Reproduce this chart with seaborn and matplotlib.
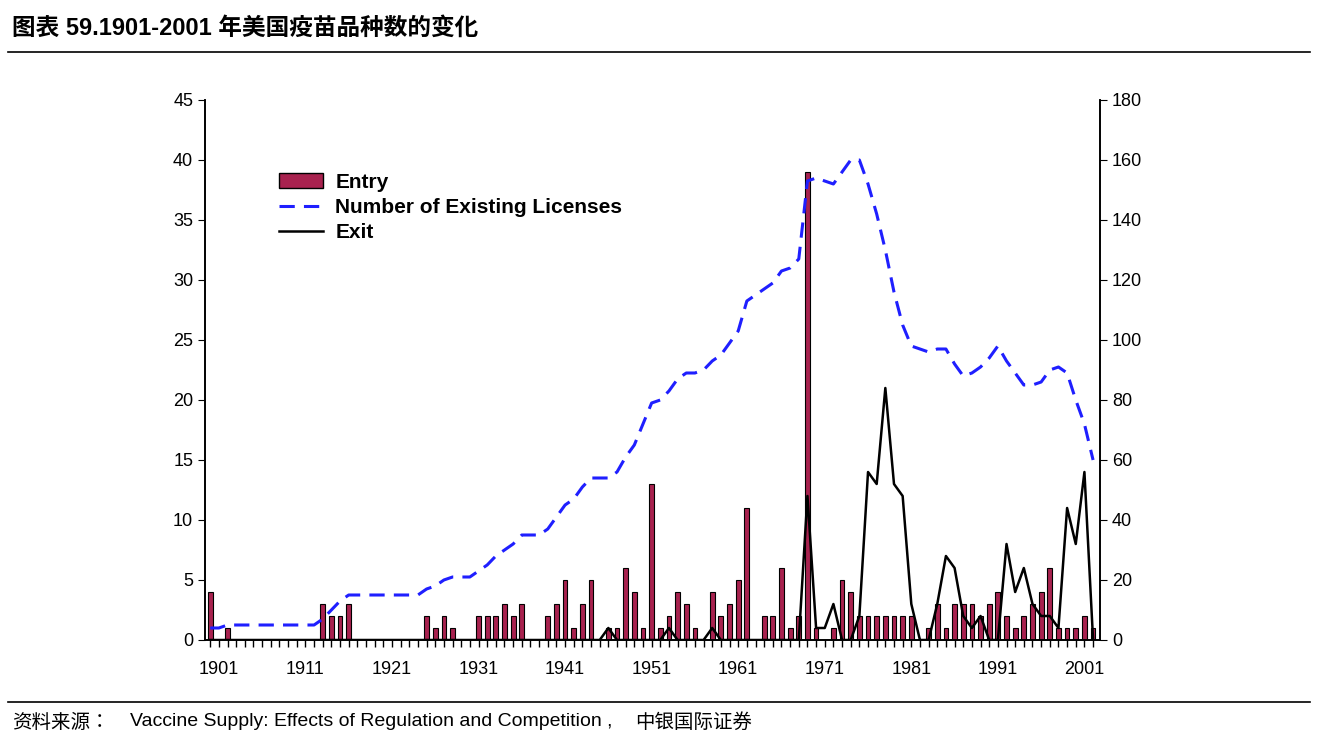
import numpy as np
import pandas as pd
import matplotlib.pyplot as plt
import seaborn as sb
from matplotlib import font_manager
from matplotlib.patches import Patch
from matplotlib.lines import Line2D

cjk = [f.name for f in font_manager.fontManager.ttflist if "CJK" in f.name]
cjk_name = "Noto Sans CJK SC" if "Noto Sans CJK SC" in cjk else (cjk[0] if cjk else "DejaVu Sans")
plt.rcParams["font.family"] = ["Liberation Sans", cjk_name]

years = list(range(1900, 2003))

entry_pts = {1900: 4, 1902: 1, 1913: 3, 1914: 2, 1915: 2, 1916: 3, 1925: 2, 1926: 1, 1927: 2,
             1928: 1, 1931: 2, 1932: 2, 1933: 2, 1934: 3, 1935: 2, 1936: 3, 1939: 2, 1940: 3,
             1941: 5, 1942: 1, 1943: 3, 1944: 5, 1946: 1, 1947: 1, 1948: 6, 1949: 4, 1950: 1,
             1951: 13, 1952: 1, 1953: 2, 1954: 4, 1955: 3, 1956: 1, 1958: 4, 1959: 2, 1960: 3,
             1961: 5, 1962: 11, 1964: 2, 1965: 2, 1966: 6, 1967: 1, 1968: 2, 1969: 39, 1970: 1,
             1972: 1, 1973: 5, 1974: 4, 1975: 2, 1976: 2, 1977: 2, 1978: 2, 1979: 2, 1980: 2,
             1981: 2, 1983: 1, 1984: 3, 1985: 1, 1986: 3, 1987: 3, 1988: 3, 1989: 2, 1990: 3,
             1991: 4, 1992: 2, 1993: 1, 1994: 2, 1995: 3, 1996: 4, 1997: 6, 1998: 1, 1999: 1,
             2000: 1, 2001: 2, 2002: 1}
exit_pts = {1946: 1, 1953: 1, 1958: 1, 1969: 12, 1970: 1, 1971: 1, 1972: 3, 1975: 2,
            1976: 14, 1977: 13, 1978: 21, 1979: 13, 1980: 12, 1981: 3, 1984: 3, 1985: 7,
            1986: 6, 1987: 2, 1988: 1, 1989: 2, 1992: 8, 1993: 4, 1994: 6, 1995: 3, 1996: 2,
            1997: 2, 1998: 1, 1999: 11, 2000: 8, 2001: 14}
licenses = [4, 4, 5, 5, 5, 5, 5, 5, 5, 5, 5, 5, 5, 7, 10, 13, 15, 15, 15, 15, 15, 15, 15, 15, 15,
            17, 18, 20, 21, 21, 21, 23, 25, 28, 30, 32, 35, 35, 35, 37, 41, 45, 47, 51, 54, 54,
            54, 56, 61, 65, 72, 79, 80, 83, 87, 89, 89, 90, 93, 95, 99, 103, 113, 115, 117, 119,
            123, 124, 127, 153, 154, 153, 152, 156, 160, 160, 152, 142, 130, 116, 105, 98, 97,
            96, 97, 97, 92, 88, 89, 91, 94, 98, 93, 89, 85, 85, 86, 90, 91, 89, 80, 72, 60]
tick_years = list(range(1901, 2002, 10))

df = pd.DataFrame({"year": years,
                   "entry": [entry_pts.get(y, 0) for y in years],
                   "exit": [exit_pts.get(y, 0) for y in years],
                   "licenses": licenses})

fig = plt.figure(figsize=(13.17, 7.47), dpi=100)
ax = fig.add_axes([205 / 1317, 1 - 640 / 747, 895 / 1317, 540 / 747])
ax2 = ax.twinx()

ax.bar(df["year"], df["entry"], width=0.55, color="#A8224F", edgecolor="black", linewidth=0.8, zorder=2)
sb.lineplot(data=df, x="year", y="exit", ax=ax, color="black", linewidth=1.8, zorder=3)
sb.lineplot(data=df, x="year", y="licenses", ax=ax2, color="#1F1FFF", linewidth=2.2,
            dashes=(5, 3), zorder=3)

ax.set_xlim(1899.4, 2002.8)
ax.set_ylim(0, 45)
ax2.set_ylim(0, 180)
ax.set_yticks(range(0, 46, 5))
ax2.set_yticks(range(0, 181, 20))
ax.set_xticks(tick_years)
ax.set_xticks(years, minor=True)
ax.tick_params(axis="x", which="both", direction="out", length=5, width=1, labelsize=13, pad=10)
ax.tick_params(axis="y", direction="out", length=5, labelsize=13)
ax2.tick_params(axis="y", direction="out", length=5, labelsize=13)
for a in (ax, ax2):
    a.set_xlabel("")
    a.set_ylabel("")
    a.spines["top"].set_visible(False)
    for s in ("left", "right", "bottom"):
        a.spines[s].set_linewidth(1.2)

handles = [Patch(facecolor="#A8224F", edgecolor="black"),
           Line2D([], [], color="#1F1FFF", linewidth=2.2, dashes=(5, 3)),
           Line2D([], [], color="black", linewidth=1.8)]
ax.legend(handles, ["Entry", "Number of Existing Licenses", "Exit"], loc="upper left",
          bbox_to_anchor=(0.062, 0.9), frameon=False, handlelength=2.1, handleheight=0.7,
          handletextpad=0.6, labelspacing=0.3, prop={"weight": "bold", "size": 15})

fig.text(12 / 1317, 1 - 28 / 747, "图表 59.1901-2001 年美国疫苗品种数的变化", fontsize=17,
         fontweight="bold", va="center", ha="left")
fig.add_artist(Line2D([8 / 1317, 1310 / 1317], [1 - 52 / 747] * 2, color="black", linewidth=1.2))
fig.add_artist(Line2D([8 / 1317, 1310 / 1317], [1 - 702 / 747] * 2, color="black", linewidth=1.2))
fig.text(12 / 1317, 1 - 722 / 747, "资料来源：", fontsize=14, style="italic", va="center",
         family=cjk_name)
fig.text(130 / 1317, 1 - 722 / 747, "Vaccine Supply: Effects of Regulation and Competition ,",
         fontsize=14, va="center")
fig.text(635 / 1317, 1 - 722 / 747, "中银国际证券", fontsize=14, style="italic", va="center",
         family=cjk_name)

fig.savefig("out.png", dpi=100)
